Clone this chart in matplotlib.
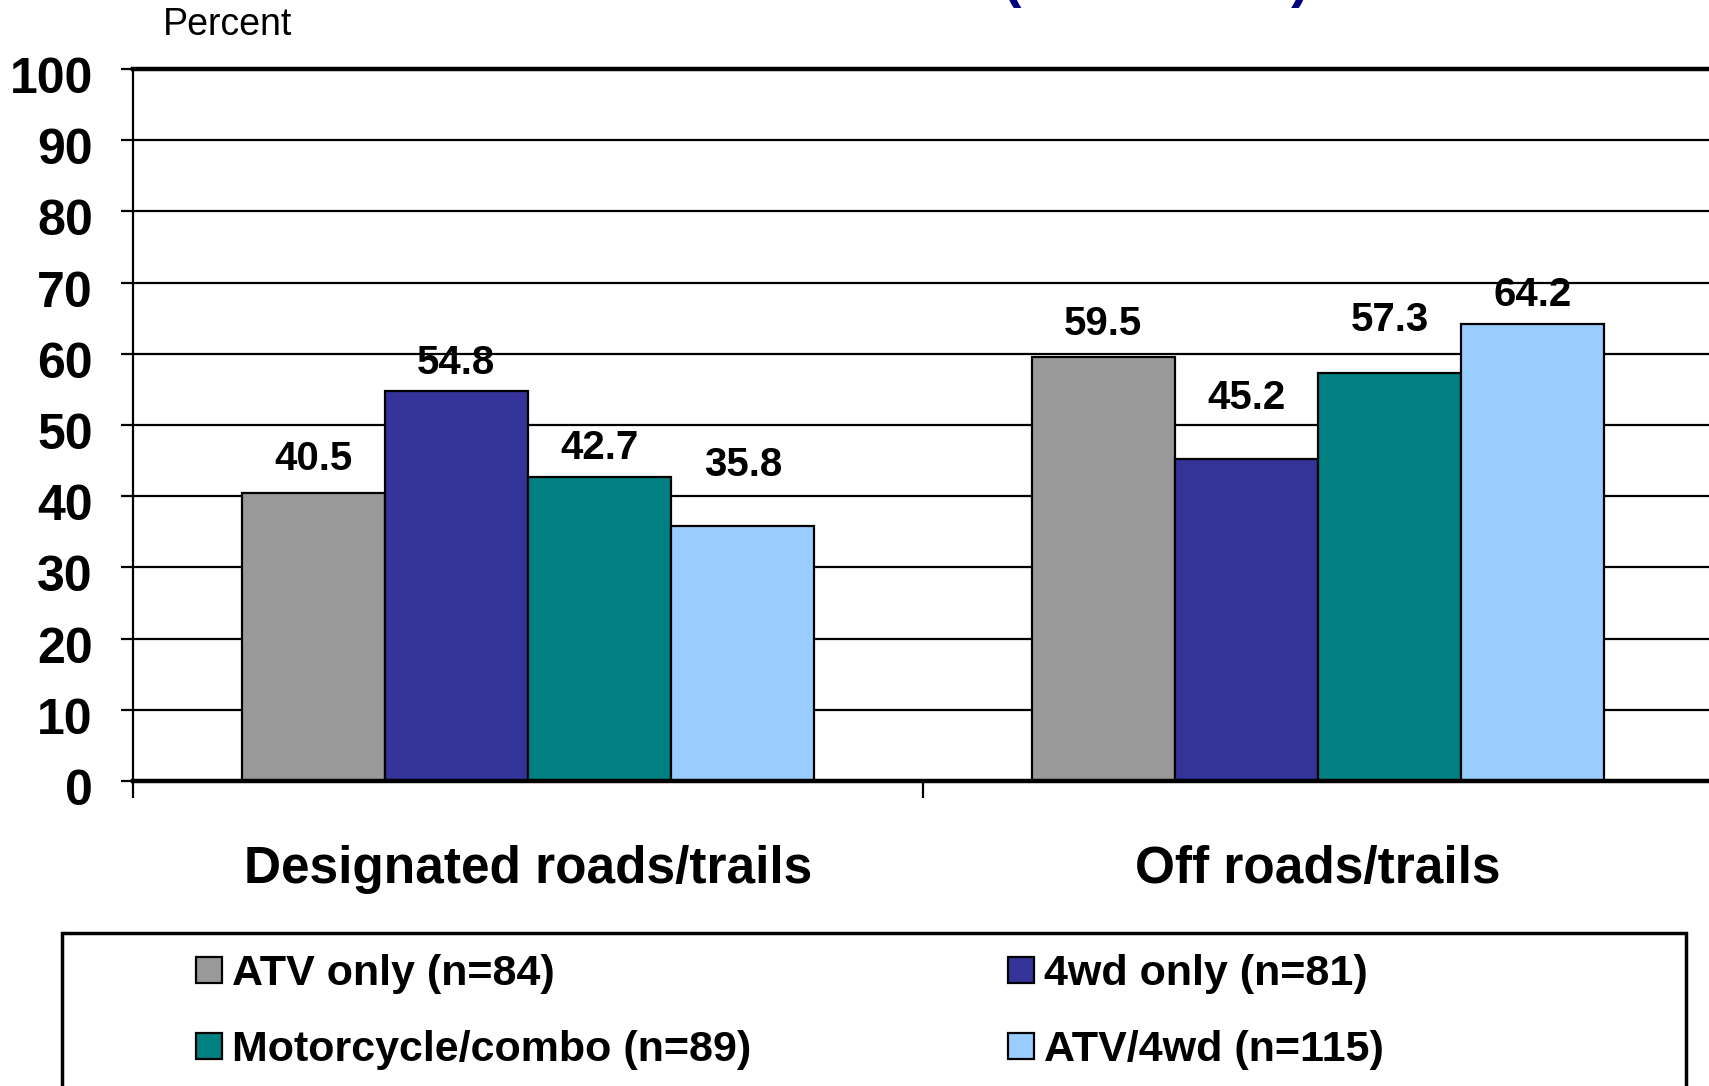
import matplotlib
matplotlib.use("Agg")
import matplotlib.pyplot as plt
from matplotlib.patches import Rectangle
from matplotlib.transforms import ScaledTranslation
import numpy as np

plt.rcParams['font.family'] = ['Liberation Sans', 'DejaVu Sans']

categories = ["Designated roads/trails", "Off roads/trails"]
series_names = ["ATV only (n=84)", "4wd only (n=81)", "Motorcycle/combo (n=89)", "ATV/4wd (n=115)"]
values = {
    "ATV only (n=84)": [40.5, 59.5],
    "4wd only (n=81)": [54.8, 45.2],
    "Motorcycle/combo (n=89)": [42.7, 57.3],
    "ATV/4wd (n=115)": [35.8, 64.2],
}
colors = ["#999999", "#333399", "#008080", "#99CCFF"]
yticks = [0, 10, 20, 30, 40, 50, 60, 70, 80, 90, 100]
# vertical offset (pixels) of each value label centre above its bar top, as placed in the reference
label_offsets_px = {
    "ATV only (n=84)": [34, 33],
    "4wd only (n=81)": [28, 61],
    "Motorcycle/combo (n=89)": [29, 53],
    "ATV/4wd (n=115)": [61, 29],
}

W, H = 1709, 1086
fig = plt.figure(figsize=(W / 100, H / 100), dpi=100)
fig.patch.set_facecolor("white")

# axes: left 133px, right 1713px, y0 at 781px, y100 at 69px
ax = fig.add_axes([133 / W, (H - 781) / H, 1580 / W, (781 - 69) / H])
ax.set_xlim(-0.5, 1.5)
ax.set_ylim(0, 100)

x = np.arange(len(categories))
bw = 0.1813
n = len(series_names)
for i, name in enumerate(series_names):
    pos = x + (i - (n - 1) / 2) * bw
    bars = ax.bar(pos, values[name], width=bw, color=colors[i], edgecolor="black",
                  linewidth=1.6, zorder=3)
    for b, v, off in zip(bars, values[name], label_offsets_px[name]):
        ax.annotate(f"{v:.1f}", (b.get_x() + b.get_width() / 2, v), xytext=(0, off * 0.72),
                    textcoords="offset points", ha="center", va="center",
                    fontsize=29, fontweight="bold", zorder=4)

# gridlines
for t in yticks:
    lw = 3.2 if t in (0, 100) else 1.6
    ax.axhline(t, color="black", linewidth=lw, zorder=5 if t == 0 else 2, clip_on=False)

for s in ["top", "right", "bottom"]:
    ax.spines[s].set_visible(False)
ax.spines["left"].set_linewidth(1.6)
ax.spines["left"].set_zorder(1)

ax.set_yticks(yticks)
ax.set_yticklabels([str(t) for t in yticks], fontsize=36, fontweight="bold")
ax.tick_params(axis="y", length=9, width=1.6, pad=20, direction="out")
shift = ScaledTranslation(0, -6 / 100, fig.dpi_scale_trans)
for lab in ax.get_yticklabels():
    lab.set_transform(lab.get_transform() + shift)

ax.set_xticks([-0.5, 0.5, 1.5])
ax.set_xticklabels(["", "", ""])
ax.tick_params(axis="x", which="major", length=12, width=1.6, direction="out")
ax.set_xticks(x, minor=True)
ax.set_xticklabels(categories, minor=True, fontsize=37, fontweight="bold")
ax.tick_params(axis="x", which="minor", length=0, pad=46)

# y unit label
fig.text(163 / W, (H - 25) / H, "Percent", fontsize=27, ha="left", va="center")

# title fragment (cut off at top)
fig.text(1012 / W, (H - 8) / H, "(", fontsize=40, fontweight="bold", color="#000080",
         ha="center", va="bottom")
fig.text(1300 / W, (H - 8) / H, ")", fontsize=40, fontweight="bold", color="#000080",
         ha="center", va="bottom")

# legend box
fig.patches.append(Rectangle((62 / W, -0.05), (1686 - 62) / W, (H - 933) / H + 0.05,
                             transform=fig.transFigure, facecolor="white",
                             edgecolor="black", linewidth=2.5, zorder=1))
handle_pos = [(196, 970), (1008, 970), (196, 1046), (1008, 1046)]
for i, name in enumerate(series_names):
    hx, hy = handle_pos[i]
    fig.patches.append(Rectangle((hx / W, (H - hy - 13) / H), 26 / W, 26 / H,
                                 transform=fig.transFigure, facecolor=colors[i],
                                 edgecolor="black", linewidth=1.6, zorder=2))
    fig.text((hx + 36) / W, (H - hy) / H, name, fontsize=31, fontweight="bold",
             ha="left", va="center_baseline", zorder=3)

fig.savefig("out.png", dpi=100, facecolor="white")
